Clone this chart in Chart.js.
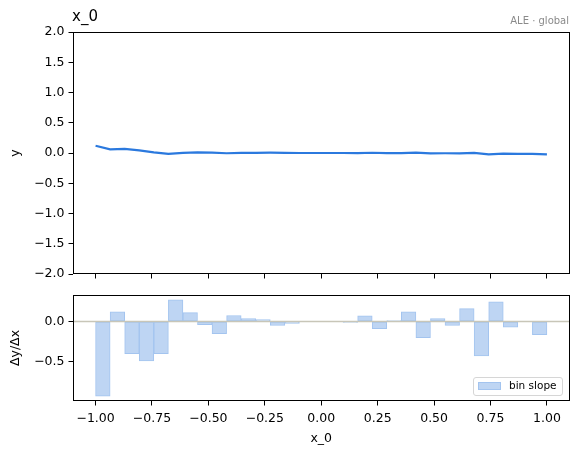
<!DOCTYPE html>
<html>
<head>
<meta charset="utf-8">
<script src="https://cdn.jsdelivr.net/npm/chart.js@4.4.0/dist/chart.umd.min.js"></script>
<style>
  body { margin: 0; background: #fff; font-family: "DejaVu Sans", sans-serif; }
  #wrap { position: relative; width: 578px; height: 454px; }
  canvas { position: absolute; left: 0; top: 0; }
  .txt { position: absolute; white-space: nowrap; }
  #title { left: 72px; top: 7px; font-size: 15px; color: #000; }
  #sub { right: 9px; top: 15px; font-size: 10px; color: #8a8a8a; }
  #legend { position: absolute; left: 473px; top: 377px; width: 88px; height: 17px;
            border: 1px solid #d6d6d6; border-radius: 3px; background: rgba(255,255,255,0.85); }
  #legend .sw { position: absolute; left: 4px; top: 4px; width: 21px; height: 6px;
                background: #bed5f3; border: 1px solid #a3c4ef; }
  #legend .lb { position: absolute; left: 35px; top: 1px; font-size: 10.5px; color: #000; }
</style>
</head>
<body>
<div id="wrap">
  <canvas id="aleChart" width="578" height="454"></canvas>
  <canvas id="slopeChart" width="578" height="454"></canvas>
  <div id="title" class="txt">x_0</div>
  <div id="sub" class="txt">ALE · global</div>
  <div id="legend"><div class="sw"></div><div class="lb">bin slope</div></div>
</div>
<script>
// bin edges (31 equal-width bins over [-1, 1])
const edges = [-1.0000, -0.9355, -0.8710, -0.8065, -0.7419, -0.6774, -0.6129, -0.5484,
  -0.4839, -0.4194, -0.3548, -0.2903, -0.2258, -0.1613, -0.0968, -0.0323,
  0.0323, 0.0968, 0.1613, 0.2258, 0.2903, 0.3548, 0.4194, 0.4839,
  0.5484, 0.6129, 0.6774, 0.7419, 0.8065, 0.8710, 0.9355, 1.0000];
// ALE curve read at each edge
const aleValues = [0.120, 0.060, 0.068, 0.042, 0.010, -0.016, 0.002, 0.009,
  0.006, -0.004, 0.001, 0.003, 0.005, 0.002, 0.000, 0.000,
  0.000, 0.000, -0.001, 0.004, -0.002, -0.001, 0.006, -0.006,
  -0.004, -0.007, 0.003, -0.024, -0.009, -0.013, -0.013, -0.024];
// slope per bin
const binSlopes = [-0.93, 0.12, -0.40, -0.49, -0.40, 0.27, 0.11, -0.04, -0.15, 0.075,
  0.035, 0.025, -0.05, -0.025, 0.0, 0.0, 0.0, -0.01, 0.07, -0.09,
  0.01, 0.12, -0.20, 0.035, -0.05, 0.16, -0.43, 0.245, -0.07, 0.0, -0.165];
const xTicks = [-1, -0.75, -0.5, -0.25, 0, 0.25, 0.5, 0.75, 1];
const yTicksTop = [-2, -1.5, -1, -0.5, 0, 0.5, 1, 1.5, 2];
const yTicksBottom = [-0.5, 0];

const FONT = { family: 'DejaVu Sans', size: 12.5 };
const fmt = (v, n) => (v < -1e-9 ? '\u2212' : '') + Math.abs(v).toFixed(n);
const centers = binSlopes.map((s, i) => (edges[i] + edges[i + 1]) / 2);

const frame = {
  id: 'frame',
  afterDraw(chart) {
    const a = chart.chartArea, c = chart.ctx;
    c.save();
    c.strokeStyle = '#000';
    c.lineWidth = 1;
    c.strokeRect(Math.round(a.left) + 0.5, Math.round(a.top) + 0.5,
      Math.round(a.right - a.left) - 1, Math.round(a.bottom - a.top) - 1);
    c.restore();
  }
};

const zeroLine = {
  id: 'zeroLine',
  afterDatasetsDraw(chart) {
    const a = chart.chartArea, c = chart.ctx;
    const y = chart.scales.y.getPixelForValue(0);
    c.save();
    c.strokeStyle = '#c8c6b8';
    c.lineWidth = 1.5;
    c.beginPath();
    c.moveTo(a.left, y);
    c.lineTo(a.right, y);
    c.stroke();
    c.restore();
  }
};

function xScale(showLabels, height) {
  return {
    type: 'linear', min: -1.1, max: 1.1, offset: false,
    afterBuildTicks: s => { s.ticks = xTicks.map(v => ({ value: v })); },
    afterFit: s => { s.height = height; },
    ticks: { display: showLabels, font: FONT, color: '#000', padding: 6,
      maxRotation: 0, autoSkip: false, callback: v => fmt(v, 2) },
    grid: { offset: false, drawOnChartArea: false, drawTicks: true, tickLength: 4.5, color: '#000' },
    border: { display: false },
    title: { display: showLabels, text: 'x_0', font: FONT, color: '#000',
      padding: { top: 0, bottom: 7.5 } }
  };
}

function yScale(min, max, ticks, label) {
  return {
    min: min, max: max,
    afterBuildTicks: s => { s.ticks = ticks.map(v => ({ value: v })); },
    afterFit: s => { s.width = 73; },
    ticks: { font: FONT, color: '#000', padding: 4, callback: v => fmt(v, 1) },
    grid: { drawOnChartArea: false, drawTicks: true, tickLength: 4.5, color: '#000' },
    border: { display: false },
    title: { display: true, text: label, font: FONT, color: '#000',
      padding: { top: 8.5, bottom: 0 } }
  };
}

new Chart(document.getElementById('aleChart'), {
  type: 'line',
  data: {
    datasets: [{
      data: edges.map((x, i) => ({ x: x, y: aleValues[i] })),
      borderColor: '#2b79de',
      borderWidth: 2.2,
      pointRadius: 0,
      tension: 0,
      fill: false
    }]
  },
  options: {
    responsive: false,
    animation: false,
    devicePixelRatio: 1,
    layout: { padding: { top: 32, right: 8.5, left: 0, bottom: 0 } },
    plugins: { legend: { display: false }, tooltip: { enabled: false } },
    scales: { x: xScale(false, 454 - 274), y: yScale(-2, 2, yTicksTop, 'y') }
  },
  plugins: [frame]
});

new Chart(document.getElementById('slopeChart'), {
  type: 'bar',
  data: {
    datasets: [{
      label: 'bin slope',
      data: centers.map((x, i) => ({ x: x, y: binSlopes[i] })),
      backgroundColor: '#bed5f3',
      borderColor: '#a3c4ef',
      borderWidth: 1,
      borderSkipped: false,
      barPercentage: 1,
      categoryPercentage: 1
    }]
  },
  options: {
    responsive: false,
    animation: false,
    devicePixelRatio: 1,
    layout: { padding: { top: 295, right: 8.5, left: 0, bottom: 0 } },
    plugins: { legend: { display: false }, tooltip: { enabled: false } },
    scales: { x: xScale(true, 454 - 401), y: yScale(-0.99, 0.33, yTicksBottom, '\u0394y/\u0394x') }
  },
  plugins: [zeroLine, frame]
});
</script>
</body>
</html>
